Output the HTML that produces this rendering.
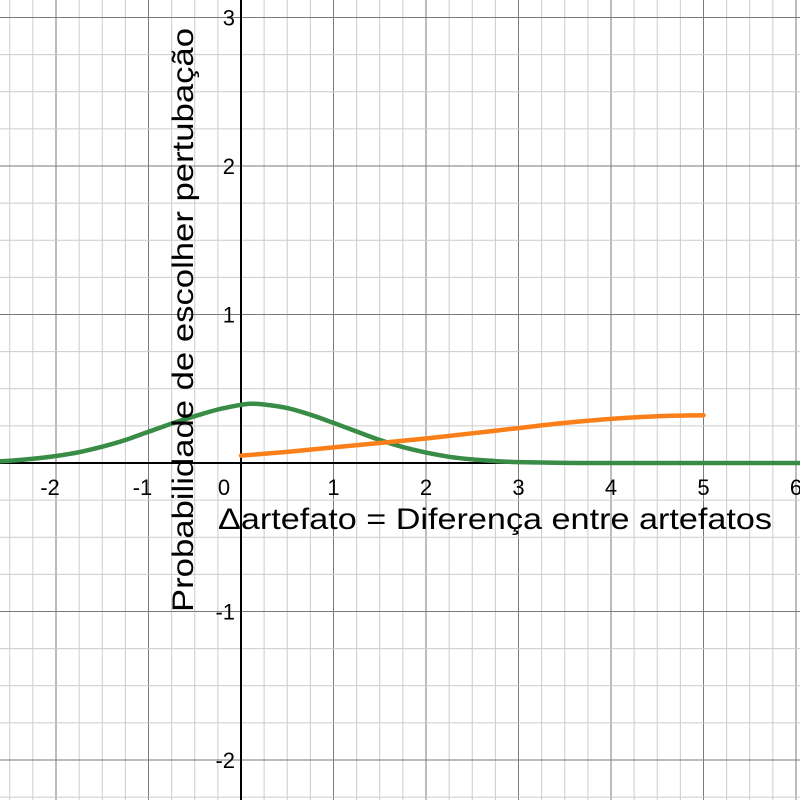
<!DOCTYPE html>
<html><head><meta charset="utf-8"><style>
html,body{margin:0;padding:0;background:#fff;}
svg{display:block;font-family:"Liberation Sans",Arial,sans-serif;}
</style></head><body>
<svg id="chart" width="800" height="800"></svg>
<script>
const greenX=[-2.8,-2.5,-2.25,-2,-1.75,-1.5,-1.25,-1,-0.75,-0.5,-0.25,0,0.1,0.25,0.5,0.75,1,1.25,1.5,1.75,2,2.25,2.5,2.75,3,3.5,4,5,6.2];
const greenY=[0.006,0.015,0.028,0.047,0.073,0.11,0.155,0.21,0.265,0.315,0.36,0.392,0.399,0.394,0.37,0.325,0.27,0.212,0.155,0.107,0.07,0.042,0.024,0.013,0.006,0.001,0,0,0];
const orangeX=[0,0.5,1,1.5,2,2.5,3,3.5,4,4.5,5];
const orangeY=[0.05,0.075,0.105,0.135,0.165,0.2,0.235,0.27,0.297,0.315,0.322];
const xTicks=[-2,-1,0,1,2,3,4,5,6];
const yTicks=[-2,-1,1,2,3];
const NS="http://www.w3.org/2000/svg";
const svg=document.getElementById('chart');
const X0=241,XU=92.5,Y0=463,YU=148.5;
const sx=v=>X0+v*XU, sy=v=>Y0-v*YU;
function mk(t,a){const e=document.createElementNS(NS,t);for(const k in a)e.setAttribute(k,a[k]);svg.appendChild(e);return e;}
for(let v=-3;v<=6.5;v+=0.25){const p=sx(v);if(p<0||p>800)continue;const maj=Math.abs(v-Math.round(v))<1e-6;
 const l=mk('line',{x1:p,x2:p,y1:0,y2:800,stroke:maj?'#7a7a7a':'#cccccc','stroke-width':1});
 }
for(let v=-3;v<=3.5;v+=0.25){const p=sy(v);if(p<0||p>800)continue;const maj=Math.abs(v-Math.round(v))<1e-6;
 const l=mk('line',{x1:0,x2:800,y1:p,y2:p,stroke:maj?'#7a7a7a':'#cccccc','stroke-width':1});
 }
const xa=mk('line',{x1:0,x2:800,y1:Y0,y2:Y0,stroke:'#000','stroke-width':2});

const ya=mk('line',{x1:X0,x2:X0,y1:0,y2:800,stroke:'#000','stroke-width':2});

function path(xs,ys,c,name){
 const P=xs.map((x,i)=>[sx(x),sy(ys[i])]);
 let d='M'+P[0][0].toFixed(1)+','+P[0][1].toFixed(1);
 for(let i=0;i<P.length-1;i++){const p0=P[i-1]||P[i],p1=P[i],p2=P[i+1],p3=P[i+2]||P[i+1];
  const c1=[p1[0]+(p2[0]-p0[0])/6,p1[1]+(p2[1]-p0[1])/6],c2=[p2[0]-(p3[0]-p1[0])/6,p2[1]-(p3[1]-p1[1])/6];
  d+='C'+c1.map(n=>n.toFixed(1)).join(',')+' '+c2.map(n=>n.toFixed(1)).join(',')+' '+p2.map(n=>n.toFixed(1)).join(',');}
 const p=mk('path',{d:d,fill:'none',stroke:c,'stroke-width':4.5,'stroke-linejoin':'round','stroke-linecap':'round'});
 }
path(greenX,greenY,'#388c46','green-curve');
path(orangeX,orangeY,'#fa7e19','orange-curve');
xTicks.forEach(v=>{const t=mk('text',{x:v===0?sx(v)-17:sx(v)-(v<0?6:0),y:Y0+32,'text-anchor':'middle','font-size':22,fill:'#000'});
 t.textContent=v;});
yTicks.forEach(v=>{const t=mk('text',{x:X0-6,y:sy(v)+8,'text-anchor':'end','font-size':22,fill:'#000'});
 t.textContent=v;});
const xt=mk('text',{x:218,y:529,'font-size':30,fill:'#000',textLength:554,lengthAdjust:'spacingAndGlyphs'});
xt.textContent='Δartefato = Diferença entre artefatos';

const yt=mk('text',{x:-292,y:0,'font-size':30,fill:'#000',textLength:584,lengthAdjust:'spacingAndGlyphs',transform:'translate(193,320) rotate(-90)'});
yt.textContent='Probabilidade de escolher pertubação';

</script>
</body></html>
